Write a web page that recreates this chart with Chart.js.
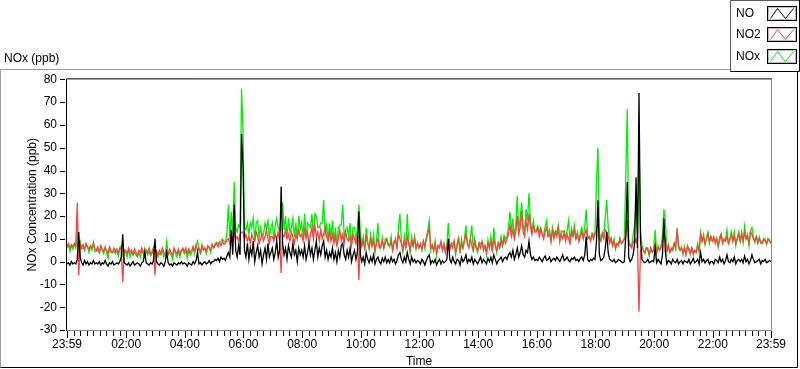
<!DOCTYPE html>
<html><head><meta charset="utf-8">
<script src="https://cdn.jsdelivr.net/npm/chart.js@4.4.1/dist/chart.umd.min.js"></script>
<style>html,body{margin:0;padding:0;background:#fff;}canvas{display:block;}</style>
</head><body>
<canvas id="c" width="800" height="369"></canvas>
<script>
// sample spacing in minutes, starting at 23:59 of the previous day (one row = one hour)
const STEP_MIN = 3;

const seriesNames = ['NO', 'NO2', 'NOx'];
const seriesColors = ['#000000', '#ff4040', '#00ee00'];

const NO = [
  -1, -0.5, -1.5, 0, -1, -0.5, -1, 1, 13, 2, -0.5, -1.5, 0.5, -1, 0, -1.5, -0.5, -1, 0.5, -1,
  -0.5, -1, 0, -1.5, -0.5, -1, 0.5, -1, -2, -0.5, -1, 0, -1.5, -1, -0.5, -1, 0, 2, 12, -0.5,
  -1, -1.5, -0.5, -2, -1, 0, -1.5, -1, -0.5, -1, -2, -0.5, 0, 4, -0.5, -1, -1.5, -0.5, -1, 0.5,
  10, 0, -1, -1.5, -0.5, -1, -2, 0, 4, -0.5, -1.5, -1, -2, -0.5, -1, -1.5, -0.5, -1, 0, -1,
  -0.5, -1, -2, -0.5, -1, -1.5, 0, -1, 0.5, 4, -1, -0.5, -1.5, -0.5, 0, -1, -0.5, 0.5, -1, 0,
  0, 1, 0.5, 1.5, 0, 2, 1, 1.5, 0.5, 2.5, 4, 2, 14, 3, 25, 5, 2, 7, 3, 56,
  42, 5, 2, 8, 1, 6, 3, 9, 0, 4, 7, 2, 5, -1, 3, 6, 1, 8, 2, 4,
  6, 1, 4, 9, 2, 5, 33, 8, 3, 6, 1, 7, 4, 2, 8, 3, 5, 0, 6, 3,
  5, 2, 7, 1, 4, 8, 3, 6, 1, 5, 9, 2, 6, 3, 7, 9, 2, 5, 1, 4,
  2, 6, 1, 4, 0, 5, 2, 7, 8, 3, 1, 5, 2, 6, 0, 3, 5, 1, 4, 22,
  3, 0, 2, -1, 4, 1, -0.5, 2, 0, 3, -1, 1, 2, 0, -1, 1.5, 0, 2, -0.5, 1,
  -0.5, 2, 0, 1, -1, 0.5, 3, 4, 1, -0.5, 2, 0, 4, 1, -1, 2, 0, 1, -0.5, 0.5,
  0, -1, 1, 0, -1.5, 0.5, 2, 3, -1, 0.5, -0.5, 1, -1.5, 0, 1, -1, 0.5, -0.5, 0, 1,
  10, 1, -0.5, 2, 0, -1, 1, 0.5, -1.5, 2, 0, 1, 3, -0.5, 1, 0, 2, -1, 1, 0,
  -1, 0.5, 2, -0.5, 1, 0, -1, 1.5, 0, 2, -0.5, 3, 1, -1, 0.5, 1, 2, 0, 1.5, 2,
  1, 3, 4, 2, 5, 1, 3, 6, 2, 4, 7, 3, 2, 5, 4, 9, 3, 1, 2, 0.5,
  1, 0.5, 2, 1, 0, 1.5, 2.5, 0.5, 1, 2, 0, 1, 1.5, 0.5, 2, 1, 0, 1.5, 3, 0.5,
  1, 2, 0.5, 0, 1.5, 1, 2, 0.5, 1, 0, 1.5, 2, 0.5, 3, 11, 1, 0, 1, 0.5, 1.5,
  1, 9, 27, 3, 0.5, 1, 2, 6, 13, 4, 1, 0.5, 0, 1, -0.5, 0, 1, 0.5, 0, -0.5,
  0, 12, 35, 2, 0, 1, 3, 8, 37, 6, 74, 10, 1, 0, -0.5, 0, 1, -0.5, 0, 0.5,
  0, 6, -0.5, 1, 0, -1, 3, 19, 4, -1, 0.5, 0, -1, 1, 0, -0.5, 1, -1, 0, 0.5,
  -1, 0.5, 0, -0.5, 1, -1, 0, 1.5, -0.5, 0, 1, -1, 4, 0, 1, -0.5, 0.5, 1, -1, 0,
  0, -1, 1, 0.5, -0.5, 2, 0, 1, -1, 0.5, 3, 0, -0.5, 1, 0, 2, -1, 0.5, 1, 0,
  1, -0.5, 2.5, 0, 1, -1, 0.5, 3, 1, -0.5, 0, 0.5, 1, -1, 0.5, 0, 1, -0.5, 0, 0.5, 0
];

const NO2 = [
  7, 8, 6, 7.5, 6.5, 8, 7, 26, -6, 8, 6, 7.5, 5, 8, 6.5, 5.5, 7, 6, 8, 5.5,
  5, 6.5, 4, 7, 5.5, 4.5, 6, 5, 3.5, 6.5, 5, 4, 6, 4.5, 5.5, 3.5, 6, 5, -9, 5,
  5, 3.5, 6, 4, 5, 3, 5.5, 4, 2.5, 5, 4, 6, 3.5, 2, 5, 4, 6, 3, 4.5, 6,
  -6, 4.5, 3, 5, 3.5, 6, 4, 3, 5, 3.5, 5.5, 4, 3, 6, 4.5, 3.5, 5.5, 3, 5, 6,
  4, 6, 3.5, 5.5, 4, 5, 6.5, 4.5, 7, 5, 6, 4, 7.5, 5.5, 6, 4.5, 7, 6, 5, 7.5,
  6, 7, 8, 6.5, 8.5, 7, 9, 7.5, 8, 9.5, 10, 8, 12, 9, 13, 10, 11, 9, 12, 13,
  13, 10, 12, 9, 11, 8, 12, 10, 9, 13, 11, 8, 10, 12, 9, 11, 14, 10, 8, 11,
  11, 9, 12, 10, 13, 9, -5, 12, 11, 14, 10, 12, 9, 13, 11, 8, 12, 10, 14, 11,
  12, 9, 14, 10, 13, 8, 12, 15, 10, 16, 11, 13, 9, 14, 10, 12, 15, 11, 9, 13,
  9, 12, 8, 11, 7, 10, 14, 9, 12, 8, 13, 10, 9, 11, 7, 12, 10, 8, 11, -8,
  10, 7, 9, 6, 11, 8, 6, 10, 7, 9, 5, 8, 10, 6, 7, 9, 6, 8, 10, 7,
  7, 9, 5, 8, 10, 6, 12, 10, 8, 5, 9, 6, 11, 8, 5, 9, 7, 10, 6, 8,
  6, 8, 5, 9, 7, 10, 12, 15, 6, 7, 5, 8, 4, 7, 6, 9, 5, 8, 4, 7,
  8, 5, 8, 6, 9, 4, 7, 10, 5, 8, 6, 9, 12, 8, 6, 10, 7, 5, 9, 6,
  5, 8, 6, 9, 5, 7, 4, 8, 6, 9, 5, 10, 7, 5, 8, 6, 9, 7, 10, 8,
  10, 12, 16, 11, 14, 10, 13, 20, 12, 15, 22, 13, 11, 18, 14, 21, 15, 12, 16, 13,
  13, 15, 11, 14, 12, 10, 13, 15, 11, 12, 9, 14, 10, 13, 11, 15, 9, 12, 10, 13,
  9, 12, 10, 8, 13, 11, 14, 10, 12, 9, 11, 13, 10, 12, 14, 10, 11, 9, 12, 10,
  12, 14, 17, 10, 9, 12, 10, 14, 13, 11, 8, 10, 7, 9, 6, 8, 7, 10, 8, 9,
  10, 11, 18, 8, 7, 6, 9, 8, 10, 7, -22, 5, 6, 5, 4, 6, 5, 3, 6, 4,
  5, 8, 4, 6, 5, 7, 9, 12, 10, 5, 7, 4, 6, 5, 8, 6, 14, 7, 5, 6,
  4, 6, 3, 7, 5, 4, 6, 3, 5, 4, 7, 5, 12, 9, 11, 8, 10, 12, 9, 11,
  9, 11, 8, 10, 7, 9, 12, 8, 10, 9, 11, 8, 10, 12, 9, 11, 8, 10, 12, 9,
  12, 9, 13, 10, 11, 8, 13, 12, 10, 9, 11, 8, 10, 9, 8, 10, 9, 8, 10, 9, 8
];

const NOX = [
  6, 7.5, 4.5, 7, 5.5, 7.5, 6, 15, 7, 9, 5.5, 6, 5.5, 7, 6.5, 4, 6.5, 5, 8.5, 4.5,
  4.5, 5.5, 4, 5.5, 5, 3.5, 6.5, 4, 1.5, 6, 4, 4, 4.5, 3.5, 5, 2.5, 6, 7, 3, 4.5,
  4, 2, 5.5, 2, 4, 3, 4, 3, 2, 4, 2, 5.5, 3.5, 6, 4.5, 3, 4.5, 2.5, 3.5, 6.5,
  4, 4.5, 2, 3.5, 3, 5, 2, 3, 9, 3, 4, 3, 1, 5.5, 3.5, 2, 5, 2, 5, 5,
  3.5, 5, 1.5, 5, 3, 3.5, 6.5, 3.5, 7.5, 9, 5, 3.5, 6, 5, 6, 3.5, 6.5, 6.5, 4, 7.5,
  6, 8, 8.5, 8, 8.5, 9, 10, 9, 8.5, 12, 25, 10, 22, 12, 35, 15, 13, 16, 15, 76,
  58, 15, 14, 17, 12, 17, 15, 19, 9, 17, 18, 10, 15, 11, 12, 17, 15, 18, 10, 15,
  17, 10, 16, 19, 15, 14, 20, 26, 14, 20, 11, 19, 13, 15, 19, 11, 17, 10, 20, 14,
  17, 11, 21, 11, 17, 16, 15, 21, 11, 21, 20, 15, 15, 17, 17, 27, 12, 16, 10, 17,
  11, 18, 9, 15, 7, 15, 16, 16, 25, 11, 14, 15, 11, 17, 7, 15, 15, 9, 15, 25,
  13, 7, 11, 5, 15, 9, 5.5, 12, 7, 12, 4, 9, 17, 6, 6, 10.5, 6, 10, 9.5, 8,
  6.5, 11, 5, 9, 9, 6.5, 15, 21, 9, 4.5, 11, 6, 21, 9, 4, 11, 7, 11, 5.5, 8.5,
  6, 7, 6, 9, 5.5, 10.5, 14, 18, 5, 7.5, 4.5, 9, 2.5, 7, 7, 8, 5.5, 7.5, 4, 8,
  17, 6, 7.5, 8, 9, 3, 8, 10.5, 3.5, 10, 6, 10, 16, 7.5, 7, 10, 16, 4, 10, 6,
  4, 8.5, 8, 8.5, 6, 7, 3, 9.5, 6, 11, 4.5, 15, 8, 4, 8.5, 7, 11, 7, 11.5, 10,
  11, 15, 22, 13, 19, 11, 16, 29, 14, 19, 26, 16, 13, 23, 18, 30, 18, 13, 18, 13.5,
  14, 15.5, 13, 15, 12, 11.5, 15.5, 18, 12, 14, 9, 15, 11.5, 13.5, 13, 16, 9, 13.5, 13, 13.5,
  10, 14, 18, 8, 14.5, 12, 16, 10.5, 13, 9, 12.5, 15, 10.5, 15, 23, 11, 11, 10, 12.5, 11.5,
  13, 35, 50, 13, 9.5, 13, 12, 20, 27, 15, 9, 10.5, 7, 10, 5.5, 8, 8, 10.5, 8, 8.5,
  10, 38, 67, 10, 7, 7, 12, 16, 26, 13, 52, 15, 7, 5, 3.5, 6, 6, 2.5, 6, 4.5,
  5, 14, 3.5, 7, 5, 6, 12, 23, 18, 4, 7.5, 4, 5, 6, 8, 5.5, 15, 6, 5, 6.5,
  3, 6.5, 3, 6.5, 6, 3, 6, 4.5, 4.5, 4, 8, 4, 13, 9, 12, 7.5, 10.5, 13, 8, 11,
  9, 10, 9, 10.5, 6.5, 11, 12, 9, 9, 9.5, 14, 8, 9.5, 13, 9, 13, 7, 10.5, 13, 9,
  13, 8.5, 15.5, 10, 12, 7, 13.5, 15, 11, 8.5, 11, 8.5, 11, 8, 8.5, 10, 10, 7.5, 10, 9.5, 8
];

// x ticks: minutes after 23:59
const xTickMinutes = [0, 121, 241, 361, 481, 601, 721, 841, 961, 1081, 1201, 1321, 1440];
const xTickLabels = ['23:59', '02:00', '04:00', '06:00', '08:00', '10:00', '12:00', '14:00', '16:00', '18:00', '20:00', '22:00', '23:59'];
const X_MINOR_PER_MAJOR = 9;

const Y_MIN = -30, Y_MAX = 80, Y_STEP = 10;

const chartTitle = 'NOx (ppb)';
const yTitle = 'NOx Concentration (ppb)';
const xTitle = 'Time';

const FONT = '"Liberation Sans", Arial, sans-serif';
Chart.defaults.font.family = FONT;
Chart.defaults.font.size = 12;
Chart.defaults.color = '#000';

const minutes = NO.map((_, i) => i * STEP_MIN);
const toPts = arr => arr.map((v, i) => ({ x: minutes[i], y: v }));
const seriesData = [NO, NO2, NOX];

const decor = {
  id: 'decor',
  afterDatasetsDraw(chart) {
    const { ctx, chartArea: a } = chart;
    const xs = chart.scales.x, ys = chart.scales.y;
    ctx.save();
    ctx.lineWidth = 1;
    ctx.strokeStyle = '#8c8c8c';
    ctx.beginPath();
    ctx.moveTo(a.right + 0.5, a.top - 1);
    ctx.lineTo(a.right + 0.5, a.bottom + 0.5);
    ctx.lineTo(a.left - 1, a.bottom + 0.5);
    ctx.stroke();
    ctx.strokeStyle = '#000';
    ctx.beginPath();
    ctx.moveTo(a.left - 0.5, a.bottom + 1);
    ctx.lineTo(a.left - 0.5, a.top - 0.5);
    ctx.lineTo(a.right + 0.5, a.top - 0.5);
    ctx.stroke();
    ctx.beginPath();
    ys.ticks.forEach(t => {
      const py = Math.round(ys.getPixelForValue(t.value)) + 0.5;
      ctx.moveTo(a.left - 7, py);
      ctx.lineTo(a.left - 2, py);
    });
    ctx.stroke();
    ctx.beginPath();
    for (let k = 0; k < xTickMinutes.length; k++) {
      const m0 = xTickMinutes[k];
      const px = Math.round(xs.getPixelForValue(m0)) + 0.5;
      ctx.moveTo(px, a.bottom + 1);
      ctx.lineTo(px, a.bottom + 8);
      if (k < xTickMinutes.length - 1) {
        const m1 = xTickMinutes[k + 1];
        for (let j = 1; j < X_MINOR_PER_MAJOR; j++) {
          const q = Math.round(xs.getPixelForValue(m0 + (m1 - m0) * j / X_MINOR_PER_MAJOR)) + 0.5;
          ctx.moveTo(q, a.bottom + 1);
          ctx.lineTo(q, a.bottom + 6);
        }
      }
    }
    ctx.stroke();
    ctx.restore();
  },
  afterDraw(chart) {
    const { ctx } = chart;
    ctx.save();
    ctx.lineWidth = 1;
    ctx.strokeStyle = '#9a9a9a';
    ctx.beginPath();
    ctx.moveTo(0.5, 367.5); ctx.lineTo(0.5, 69.5); ctx.lineTo(797.5, 69.5);
    ctx.stroke();
    ctx.strokeStyle = '#000';
    ctx.beginPath();
    ctx.moveTo(797.5, 69.5); ctx.lineTo(797.5, 367.5); ctx.lineTo(0.5, 367.5);
    ctx.stroke();
    const lx = 730, lw = 70, lh = 72;
    ctx.fillStyle = '#fff';
    ctx.fillRect(lx, 0, lw, lh);
    ctx.strokeStyle = '#5a5a5a';
    ctx.beginPath();
    ctx.moveTo(lx + 0.5, lh); ctx.lineTo(lx + 0.5, 0.5); ctx.lineTo(lx + lw, 0.5);
    ctx.stroke();
    ctx.strokeStyle = '#000';
    ctx.beginPath();
    ctx.moveTo(lx + 0.5, lh - 0.5); ctx.lineTo(lx + lw - 0.5, lh - 0.5); ctx.lineTo(lx + lw - 0.5, 0);
    ctx.stroke();
    const rows = [14, 35, 57];
    chart.data.datasets.forEach((ds, i) => {
      const cy = rows[i];
      ctx.fillStyle = '#000';
      ctx.font = '12px ' + FONT;
      ctx.textAlign = 'left';
      ctx.textBaseline = 'middle';
      ctx.fillText(ds.label, 736, cy);
      const bx = 767.5, by = cy - 7.5, bw = 29, bh = 14;
      ctx.lineWidth = 1;
      ctx.strokeStyle = '#000';
      ctx.strokeRect(bx, by, bw, bh);
      ctx.strokeStyle = '#bdbdbd';
      ctx.strokeRect(bx + 1, by + 1, bw - 2, bh - 2);
      ctx.strokeStyle = ds.borderColor;
      ctx.beginPath();
      ctx.moveTo(bx + 3, by + bh - 2);
      ctx.lineTo(bx + 10, by + 2);
      ctx.lineTo(bx + 18, by + bh - 2);
      ctx.lineTo(bx + 26, by + 2);
      ctx.stroke();
    });
    ctx.restore();
  }
};

new Chart(document.getElementById('c'), {
  type: 'line',
  data: {
    datasets: seriesNames.map((name, i) => ({
      label: name,
      data: toPts(seriesData[i]),
      borderColor: seriesColors[i],
      backgroundColor: seriesColors[i],
      borderWidth: 1.3,
      pointRadius: 0,
      tension: 0,
      fill: false
    }))
  },
  options: {
    responsive: false,
    animation: false,
    devicePixelRatio: 1,
    layout: { padding: { left: 4, right: 29, top: 0, bottom: 0 } },
    plugins: {
      legend: { display: false },
      tooltip: { enabled: false },
      title: {
        display: true,
        text: chartTitle,
        align: 'start',
        color: '#000',
        font: { size: 12, weight: 'normal', family: FONT },
        padding: { top: 51, bottom: 14 }
      }
    },
    scales: {
      x: {
        type: 'linear',
        min: 0,
        max: 1440,
        grid: { display: false, drawTicks: false },
        border: { display: false },
        afterBuildTicks: s => { s.ticks = xTickMinutes.map(v => ({ value: v })); },
        afterFit: s => { s.height = 39; },
        ticks: {
          autoSkip: false,
          maxRotation: 0,
          padding: 7,
          color: '#000',
          callback: (v) => { const k = xTickMinutes.indexOf(v); return k >= 0 ? xTickLabels[k] : ''; }
        },
        title: { display: true, text: xTitle, color: '#000', padding: { top: 0, bottom: 0 }, font: { size: 12 } }
      },
      y: {
        min: Y_MIN,
        max: Y_MAX,
        grid: { display: false, drawTicks: false },
        border: { display: false },
        afterFit: s => { s.width = 63; },
        ticks: { stepSize: Y_STEP, padding: 10, color: '#000' },
        title: { display: true, text: yTitle, color: '#000', padding: { top: 21, bottom: 0 }, font: { size: 12 } }
      }
    }
  },
  plugins: [decor]
});
</script>
</body></html>
